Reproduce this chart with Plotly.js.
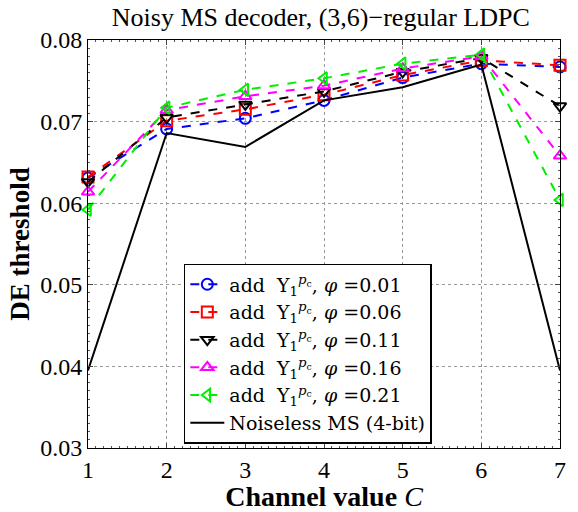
<!DOCTYPE html>
<html><head><meta charset="utf-8">
<script src="https://cdn.plot.ly/plotly-3.0.1.min.js"></script>
<style>body{margin:0;background:#fff}#c{width:578px;height:512px}</style>
</head><body><div id="c"></div>
<script>
const channel = [1,2,3,4,5,6,7];
const phi001 = [0.0631,0.0691,0.0704,0.0726,0.0754,0.0771,0.0767];
const phi006 = [0.0632,0.0701,0.0715,0.0733,0.0757,0.0775,0.0769];
const phi011 = [0.0626,0.0705,0.0721,0.0737,0.0761,0.0778,0.0719];
const phi016 = [0.0614,0.0714,0.0731,0.0744,0.0765,0.0780,0.0658];
const phi021 = [0.0592,0.0717,0.0739,0.0753,0.0771,0.0782,0.0604];
const noiseless = [0.0395,0.0686,0.0669,0.0726,0.0742,0.0770,0.0395];
const phiLabels = ['0.01','0.06','0.11','0.16','0.21'];
const seriesVals = [phi001,phi006,phi011,phi016,phi021];
const colors = ['#0000ff','#ff0000','#000000','#ff00ff','#00ee00'];
const symbols = ['circle-open','square-open','triangle-down-open','triangle-up-open','triangle-left-open'];

const font = 'Liberation Serif, DejaVu Serif, serif';
const legendFont = 'DejaVu Serif, Liberation Serif, serif';
const traces = seriesVals.map((v,i)=>({
  x: channel, y: v, type:'scatter', mode:'lines+markers', cliponaxis:false,
  name: 'add&nbsp;&nbsp;Υ<sub>1</sub><sup><i>p</i><sub>c</sub></sup>,&nbsp;<i>φ</i>&nbsp;=' + phiLabels[i],
  line:{color:colors[i], dash:'dash', width:2},
  marker:{symbol:symbols[i], size:11, color:colors[i], line:{width:2, color:colors[i]}}
}));
traces.push({x:channel, y:noiseless, type:'scatter', mode:'lines', name:'Noiseless MS (4-bit)', cliponaxis:false,
  line:{color:'#000', width:2}});

const layout = {
  width:578, height:512,
  margin:{l:88, r:18, t:40, b:64},
  paper_bgcolor:'#fff', plot_bgcolor:'#fff',
  font:{family:font, size:24, color:'#000'},
  title:{text:'Noisy MS decoder, (3,6)−regular LDPC', font:{family:font, size:26}, x:0.555, xanchor:'center', y:0.985, yanchor:'top'},
  xaxis:{range:[1,7], dtick:1, tick0:1, ticks:'inside', ticklen:5, mirror:'allticks', showline:true, linecolor:'#000', linewidth:1,
    showgrid:true, gridcolor:'#999', griddash:'dot', zeroline:false, tickfont:{size:24},
    minor:{dtick:0.1, ticks:'inside', ticklen:2, tickcolor:'#555', showgrid:false},
    title:{text:'<b>Channel value </b><i>C</i>', font:{size:28}, standoff:0}},
  yaxis:{range:[0.03,0.08], dtick:0.01, tickformat:'.2f', ticks:'inside', ticklen:5, mirror:'allticks', showline:true, linecolor:'#000', linewidth:1,
    showgrid:true, gridcolor:'#999', griddash:'dot', zeroline:false, tickfont:{size:24},
    minor:{dtick:0.001, ticks:'inside', ticklen:2, tickcolor:'#555', showgrid:false},
    title:{text:'<b>DE threshold</b>', font:{size:27}, standoff:2}},
  showlegend:true,
  legend:{x:0.203, y:0.01, xanchor:'left', yanchor:'bottom', bgcolor:'#fff', bordercolor:'#000', borderwidth:1.5,
    font:{family:legendFont, size:19}, tracegroupgap:0, itemwidth:34}
};
Plotly.newPlot('c', traces, layout, {displayModeBar:false});
</script></body></html>
